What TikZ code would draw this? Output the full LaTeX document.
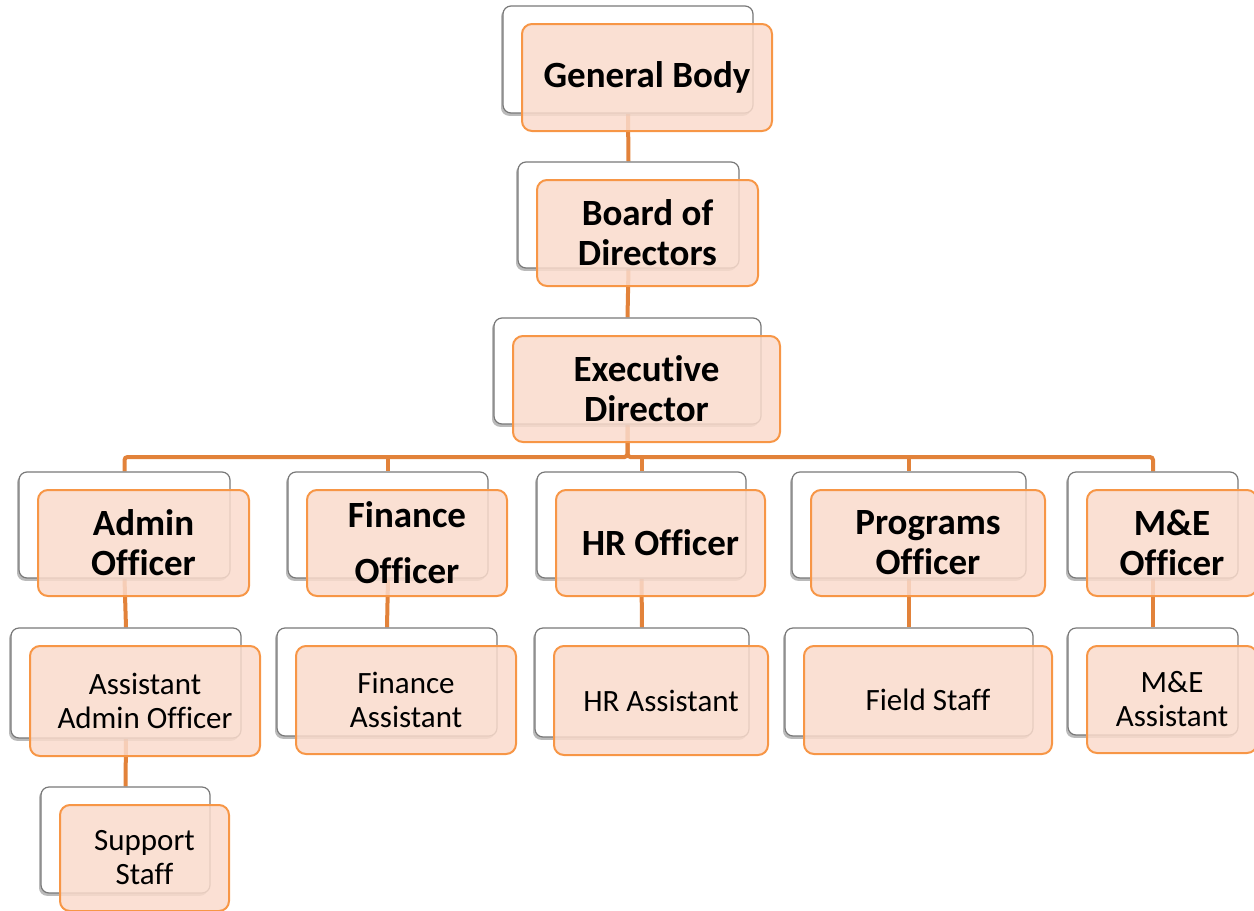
\documentclass[tikz,border=0pt]{standalone}
\usepackage{fontspec}
\setmainfont{Carlito}[Ligatures=NoCommon]
\usetikzlibrary{backgrounds,shadows}
\definecolor{lineor}{RGB}{226,130,58}
\definecolor{boxor}{RGB}{247,150,70}
\definecolor{fillor}{RGB}{250,219,204}
\definecolor{backgray}{RGB}{120,120,120}
\tikzset{
  backbox/.style={draw=backgray, line width=0.6pt, fill=white, rounded corners=4pt, inner sep=0pt,
    drop shadow={shadow xshift=-1pt, shadow yshift=-1.4pt, opacity=0.45, fill=black!60}},
  frontbox/.style={draw=boxor, line width=1pt, fill=fillor, fill opacity=0.85, text opacity=1,
    rounded corners=5pt, inner sep=0pt, align=center},
  bigtxt/.style={font=\bfseries\fontsize{18.5}{20}\selectfont},
  smalltxt/.style={font=\fontsize{15.5}{17}\selectfont},
  conn/.style={draw=lineor, line width=2pt, rounded corners=1.5pt},
}
\newcommand\orgunit[7]{%
  \node[backbox, minimum width={(#4-#2)*0.5pt}, minimum height={(#5-#3)*0.5pt}] (#1b) at ({(#2+#4)/2},{(#3+#5)/2}) {};
  \node[frontbox, #6, minimum width={(#4-#2)*0.5pt}, minimum height={(#5-#3)*0.5pt}] (#1) at ({(#2+#4)/2+19},{(#3+#5)/2+18}) {#7};
}
\begin{document}
\begin{tikzpicture}[x=0.5pt,y=-0.5pt]
\useasboundingbox (0,0) rectangle (1254,911);
\clip (0,0) rectangle (1254,911);
\orgunit{gb}{503}{6}{753}{113}{bigtxt}{General Body}
\orgunit{bod}{518}{162}{739}{268}{bigtxt}{Board of\\Directors}
\orgunit{ed}{494}{318}{761}{424}{bigtxt}{Executive\\Director}
\orgunit{adm}{19}{472}{230}{578}{bigtxt}{Admin\\Officer}
\orgunit{fin}{288}{472}{488}{578}{bigtxt}{Finance\\[8pt]Officer}
\orgunit{hr}{537}{472}{746}{578}{bigtxt}{HR Officer}
\orgunit{prog}{792}{472}{1026}{578}{bigtxt}{Programs\\Officer}
\orgunit{me}{1068}{472}{1238}{578}{bigtxt}{M\&E\\Officer}
\orgunit{aadm}{11}{628}{241}{738}{smalltxt}{Assistant\\Admin Officer}
\orgunit{fina}{277}{628}{497}{736}{smalltxt}{Finance\\Assistant}
\orgunit{hra}{535}{628}{749}{737}{smalltxt}{HR Assistant}
\orgunit{field}{785}{628}{1033}{736}{smalltxt}{Field Staff}
\orgunit{mea}{1068}{628}{1238}{735}{smalltxt}{M\&E\\Assistant}
\orgunit{sup}{41}{787}{210}{893}{smalltxt}{Support\\Staff}
\coordinate (bus) at (0,457);
\begin{scope}[on background layer]
  \draw[conn] (gbb.south) -- (bodb.north);
  \draw[conn] (bodb.south) -- (edb.north);
  \draw[conn] (edb.south) -- (edb.south |- bus) -| (admb.north);
  \draw[conn] (edb.south) -- (edb.south |- bus) -| (meb.north);
  \draw[conn] (finb.north |- bus) -- (finb.north);
  \draw[conn] (hrb.north |- bus) -- (hrb.north);
  \draw[conn] (progb.north |- bus) -- (progb.north);
  \draw[conn] (admb.south) -- (aadmb.north);
  \draw[conn] (finb.south) -- (finab.north);
  \draw[conn] (hrb.south) -- (hrab.north);
  \draw[conn] (progb.south) -- (fieldb.north);
  \draw[conn] (meb.south) -- (meab.north);
  \draw[conn] (aadmb.south) -- (supb.north);
\end{scope}
\end{tikzpicture}
\end{document}
